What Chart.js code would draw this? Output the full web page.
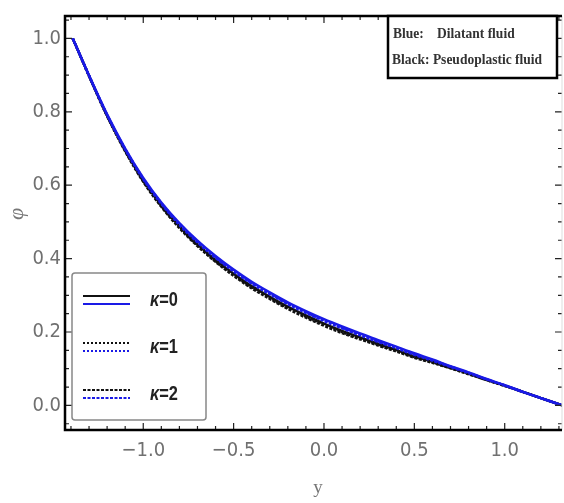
<!DOCTYPE html>
<html>
<head>
<meta charset="utf-8">
<script src="https://cdn.jsdelivr.net/npm/chart.js@4.4.0/dist/chart.umd.min.js"></script>
<style>
  body { margin: 0; background: #fff; }
  canvas { display: block; }
</style>
</head>
<body>
<canvas id="phiChart" width="564" height="503"></canvas>
<script>
// y positions across the channel
const yPos = [-1.39, -1.3, -1.2, -1.1, -1.0, -0.9, -0.8, -0.7, -0.6, -0.5, -0.4, -0.3, -0.2, -0.1,
    0, 0.1, 0.2, 0.3, 0.4, 0.5, 0.6, 0.7, 0.8, 0.9, 1.0, 1.1, 1.2, 1.32]

// phi for dilatant fluid (blue)
const dilatantK0 = [1.0, 0.899, 0.793, 0.700, 0.620, 0.553, 0.497, 0.449, 0.407, 0.370, 0.337, 0.308, 0.281, 0.257,
    0.235, 0.215, 0.196, 0.178, 0.160, 0.142, 0.125, 0.107, 0.090, 0.072, 0.055, 0.037, 0.020, 0.0]
const dilatantK1 = [1.0, 0.899, 0.792, 0.699, 0.618, 0.551, 0.495, 0.447, 0.404, 0.367, 0.334, 0.305, 0.278, 0.254,
    0.232, 0.212, 0.193, 0.175, 0.158, 0.140, 0.123, 0.106, 0.089, 0.071, 0.055, 0.037, 0.020, 0.0]
const dilatantK2 = [1.0, 0.898, 0.791, 0.697, 0.616, 0.549, 0.492, 0.444, 0.402, 0.365, 0.332, 0.303, 0.276, 0.252,
    0.230, 0.210, 0.191, 0.173, 0.156, 0.138, 0.122, 0.105, 0.088, 0.071, 0.054, 0.037, 0.020, 0.0]

// phi for pseudoplastic fluid (black)
const pseudoK0 = [1.0, 0.898, 0.790, 0.695, 0.613, 0.545, 0.488, 0.439, 0.396, 0.359, 0.325, 0.296, 0.269, 0.245,
    0.223, 0.203, 0.185, 0.168, 0.151, 0.134, 0.119, 0.103, 0.087, 0.070, 0.054, 0.037, 0.020, 0.0]
const pseudoK1 = [1.0, 0.898, 0.789, 0.694, 0.611, 0.543, 0.486, 0.436, 0.393, 0.356, 0.322, 0.293, 0.266, 0.242,
    0.220, 0.200, 0.182, 0.166, 0.149, 0.132, 0.117, 0.102, 0.086, 0.069, 0.054, 0.037, 0.020, 0.0]
const pseudoK2 = [1.0, 0.897, 0.788, 0.692, 0.609, 0.541, 0.483, 0.434, 0.391, 0.353, 0.319, 0.290, 0.263, 0.239,
    0.217, 0.197, 0.180, 0.163, 0.147, 0.130, 0.116, 0.101, 0.085, 0.069, 0.053, 0.037, 0.020, 0.0]

const xTickValues = [-1.0, -0.5, 0.0, 0.5, 1.0]
const yTickValues = [0.0, 0.2, 0.4, 0.6, 0.8, 1.0]
const kappaLabels = ['κ=0', 'κ=1', 'κ=2']

const blue = '#1a1ae6'
const black = '#111'

const toPoints = function (vals) {
    return yPos.map((v, i) => ({ x: v, y: vals[i] }))
}

const series = function (vals, color, dash) {
    return {
        data: toPoints(vals),
        showLine: true,
        borderColor: color,
        borderWidth: 2.5,
        borderDash: dash,
        pointRadius: 0,
        cubicInterpolationMode: 'monotone',
        fill: false
    }
}

const fmt = v => (v < 0 ? '\u2212' : '') + Math.abs(v).toFixed(1)

// condensed-looking text: squeeze horizontally around the left edge
const squeezed = function (ctx, text, x, y, sx) {
    ctx.save()
    ctx.translate(x, y)
    ctx.scale(sx, 1)
    ctx.fillText(text, 0, 0)
    const w = ctx.measureText(text).width * sx
    ctx.restore()
    return w
}

// frame, inward ticks, titles and the two legend boxes
const decorations = {
    id: 'decorations',
    afterDraw(chart) {
        const { ctx, chartArea: a, scales: { x, y } } = chart
        ctx.save()

        // tick marks on all four sides
        ctx.strokeStyle = '#222'
        ctx.lineWidth = 1.2
        for (let i = -14; i <= 13; i++) {
            const px = x.getPixelForValue(i / 10)
            const len = i % 5 === 0 ? 7 : 4
            ctx.beginPath()
            ctx.moveTo(px, a.bottom); ctx.lineTo(px, a.bottom - len)
            ctx.moveTo(px, a.top); ctx.lineTo(px, a.top + len)
            ctx.stroke()
        }
        for (let i = -1; i <= 21; i++) {
            const py = y.getPixelForValue(i * 0.05)
            const len = i % 4 === 0 ? 7 : 4
            ctx.beginPath()
            ctx.moveTo(a.left, py); ctx.lineTo(a.left + len, py)
            ctx.moveTo(a.right, py); ctx.lineTo(a.right - len, py)
            ctx.stroke()
        }

        // frame
        ctx.strokeStyle = '#ddd'
        ctx.lineWidth = 1
        ctx.beginPath(); ctx.moveTo(a.right, a.top); ctx.lineTo(a.right, a.bottom); ctx.stroke()
        ctx.strokeStyle = '#000'
        ctx.lineWidth = 2.5
        ctx.beginPath()
        ctx.moveTo(a.right, a.top); ctx.lineTo(a.left, a.top)
        ctx.lineTo(a.left, a.bottom); ctx.lineTo(a.right, a.bottom)
        ctx.stroke()

        // axis titles
        ctx.fillStyle = '#777'
        ctx.font = '19px "Liberation Serif", serif'
        ctx.textAlign = 'center'
        ctx.textBaseline = 'middle'
        ctx.fillText('y', 318, 488)
        ctx.save()
        ctx.translate(17, 214)
        ctx.rotate(-Math.PI / 2)
        ctx.font = 'italic 22px "Liberation Serif", serif'
        ctx.fillText('\u03c6', 0, 0)
        ctx.restore()

        // fluid legend, top right
        ctx.fillStyle = '#fff'
        ctx.fillRect(388, 16, 169, 62)
        ctx.strokeStyle = '#000'
        ctx.lineWidth = 2.5
        ctx.strokeRect(388, 16, 169, 62)
        ctx.fillStyle = '#333'
        ctx.textAlign = 'left'
        ctx.font = 'bold 15px "Liberation Serif", serif'
        squeezed(ctx, 'Blue:', 393, 34, 0.9)
        squeezed(ctx, 'Dilatant fluid', 437, 34, 0.9)
        squeezed(ctx, 'Black: Pseudoplastic fluid', 392, 60, 0.9)

        // kappa legend, bottom left
        ctx.fillStyle = '#fff'
        ctx.strokeStyle = '#888'
        ctx.lineWidth = 1.5
        ctx.beginPath()
        ctx.roundRect(72, 273, 134, 147, 3)
        ctx.fill()
        ctx.stroke()
        const rows = [296, 343, 390]
        const dashes = [[], [2, 2], [3, 1.5]]
        rows.forEach((ry, i) => {
            ctx.setLineDash(dashes[i])
            ctx.lineWidth = 2.2
            ctx.strokeStyle = black
            ctx.beginPath(); ctx.moveTo(83, ry); ctx.lineTo(130, ry); ctx.stroke()
            ctx.strokeStyle = blue
            ctx.beginPath(); ctx.moveTo(83, ry + 8); ctx.lineTo(130, ry + 8); ctx.stroke()
            ctx.setLineDash([])
            ctx.fillStyle = '#222'
            ctx.font = 'bold italic 21px "Liberation Sans", sans-serif'
            const kw = squeezed(ctx, 'κ', 150, ry + 4, 0.78)
            ctx.font = 'bold 21px "Liberation Sans", sans-serif'
            squeezed(ctx, kappaLabels[i].slice(1), 150 + kw, ry + 4, 0.78)
        })

        ctx.restore()
    }
}

const tickFont = { family: '"DejaVu Sans Condensed", "DejaVu Sans", sans-serif', size: 20 }

new Chart(document.getElementById('phiChart'), {
    type: 'scatter',
    data: {
        datasets: [
            series(dilatantK0, blue, []),
            series(dilatantK1, blue, [2, 2]),
            series(dilatantK2, blue, [3, 1.5]),
            series(pseudoK0, black, []),
            series(pseudoK1, black, [2, 2]),
            series(pseudoK2, black, [3, 1.5])
        ]
    },
    options: {
        responsive: false,
        animation: false,
        layout: { padding: { top: 7, right: 2, left: 0, bottom: 0 } },
        plugins: { legend: { display: false }, tooltip: { enabled: false } },
        scales: {
            x: {
                type: 'linear',
                min: -1.433,
                max: 1.317,
                grid: { display: false, drawTicks: false },
                border: { display: false },
                afterBuildTicks: s => { s.ticks = xTickValues.map(v => ({ value: v })) },
                afterFit: s => { s.height = 73 },
                ticks: { color: '#707070', font: tickFont, padding: 9, callback: v => fmt(v) }
            },
            y: {
                min: -0.067,
                max: 1.061,
                grid: { display: false, drawTicks: false },
                border: { display: false },
                afterBuildTicks: s => { s.ticks = yTickValues.map(v => ({ value: v })) },
                afterFit: s => { s.width = 65 },
                ticks: { color: '#707070', font: tickFont, padding: 4, callback: v => fmt(v) }
            }
        }
    },
    plugins: [decorations]
})
</script>
</body>
</html>
